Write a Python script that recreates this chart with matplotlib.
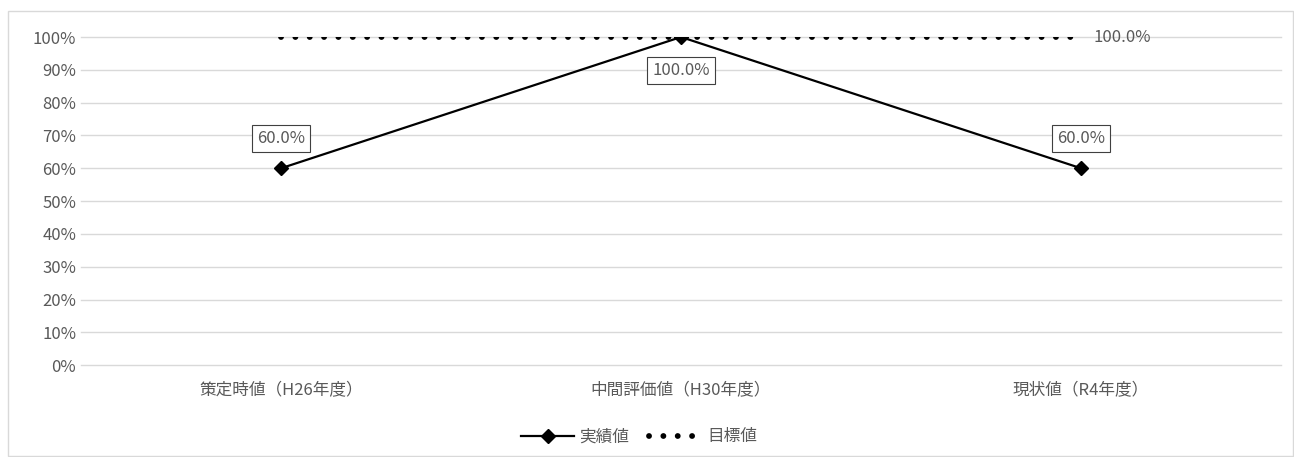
import matplotlib.pyplot as plt
from matplotlib.patches import Rectangle

plt.rcParams['font.family'] = ['Noto Sans CJK JP', 'DejaVu Sans']

categories = ["策定時値（H26年度）", "中間評価値（H30年度）", "現状値（R4年度）"]
actual = [0.60, 1.00, 0.60]
target = [1.00, 1.00, 1.00]
actual_labels = ["60.0%", "100.0%", "60.0%"]
target_label = "100.0%"

gray = "#595959"
fs = 12

fig = plt.figure(figsize=(12.94, 4.57), dpi=100)
ax = fig.add_axes([0.0626, 0.201, 0.9274, 0.718])

x = list(range(len(categories)))
ax.plot(x, actual, color="black", lw=1.6, marker="D", markersize=7, label="実績値", zorder=4)
ax.plot(x, target, color="black", lw=4.2, linestyle=(0, (0.01, 2.45)), dash_capstyle="round",
        label="目標値", zorder=3)

ax.set_xlim(-0.5, len(categories) - 0.5)
ax.set_ylim(0, 1)
ax.set_yticks([i / 10 for i in range(11)])
ax.set_yticklabels([f"{i * 10}%" for i in range(11)])
ax.set_xticks(x)
ax.set_xticklabels(categories)
ax.tick_params(length=0, colors=gray, labelsize=fs)
ax.tick_params(axis="x", pad=12)
ax.grid(axis="y", color="#d9d9d9", lw=1)
for gl in ax.get_ygridlines():
    gl.set_clip_on(False)
ax.set_axisbelow(True)
for s in ax.spines.values():
    s.set_visible(False)

box = dict(boxstyle="square,pad=0.3", fc="white", ec="#404040", lw=0.8)
for xi, v, lab in zip(x, actual, actual_labels):
    dy = -33 if v >= 1.0 else 30
    ax.annotate(lab, (xi, v), xytext=(0, dy), textcoords="offset pixels",
                ha="center", va="center", fontsize=fs, color=gray, bbox=box, zorder=5)

ax.annotate(target_label, (x[-1], target[-1]), xytext=(12, 0), textcoords="offset pixels",
            ha="left", va="center", fontsize=fs, color=gray, zorder=5)

leg = fig.legend(loc="center", bbox_to_anchor=(0.494, 0.044), ncol=2, frameon=False,
                 fontsize=fs, handlelength=3.2, columnspacing=1.2, handletextpad=0.3)
for t in leg.get_texts():
    t.set_color(gray)

fig.patches.append(Rectangle((8 / 1294, 1 / 457), 1 - 9 / 1294, 1 - 12 / 457,
                             transform=fig.transFigure, fill=False, ec="#d9d9d9", lw=1))

fig.savefig("out.png", dpi=100)
